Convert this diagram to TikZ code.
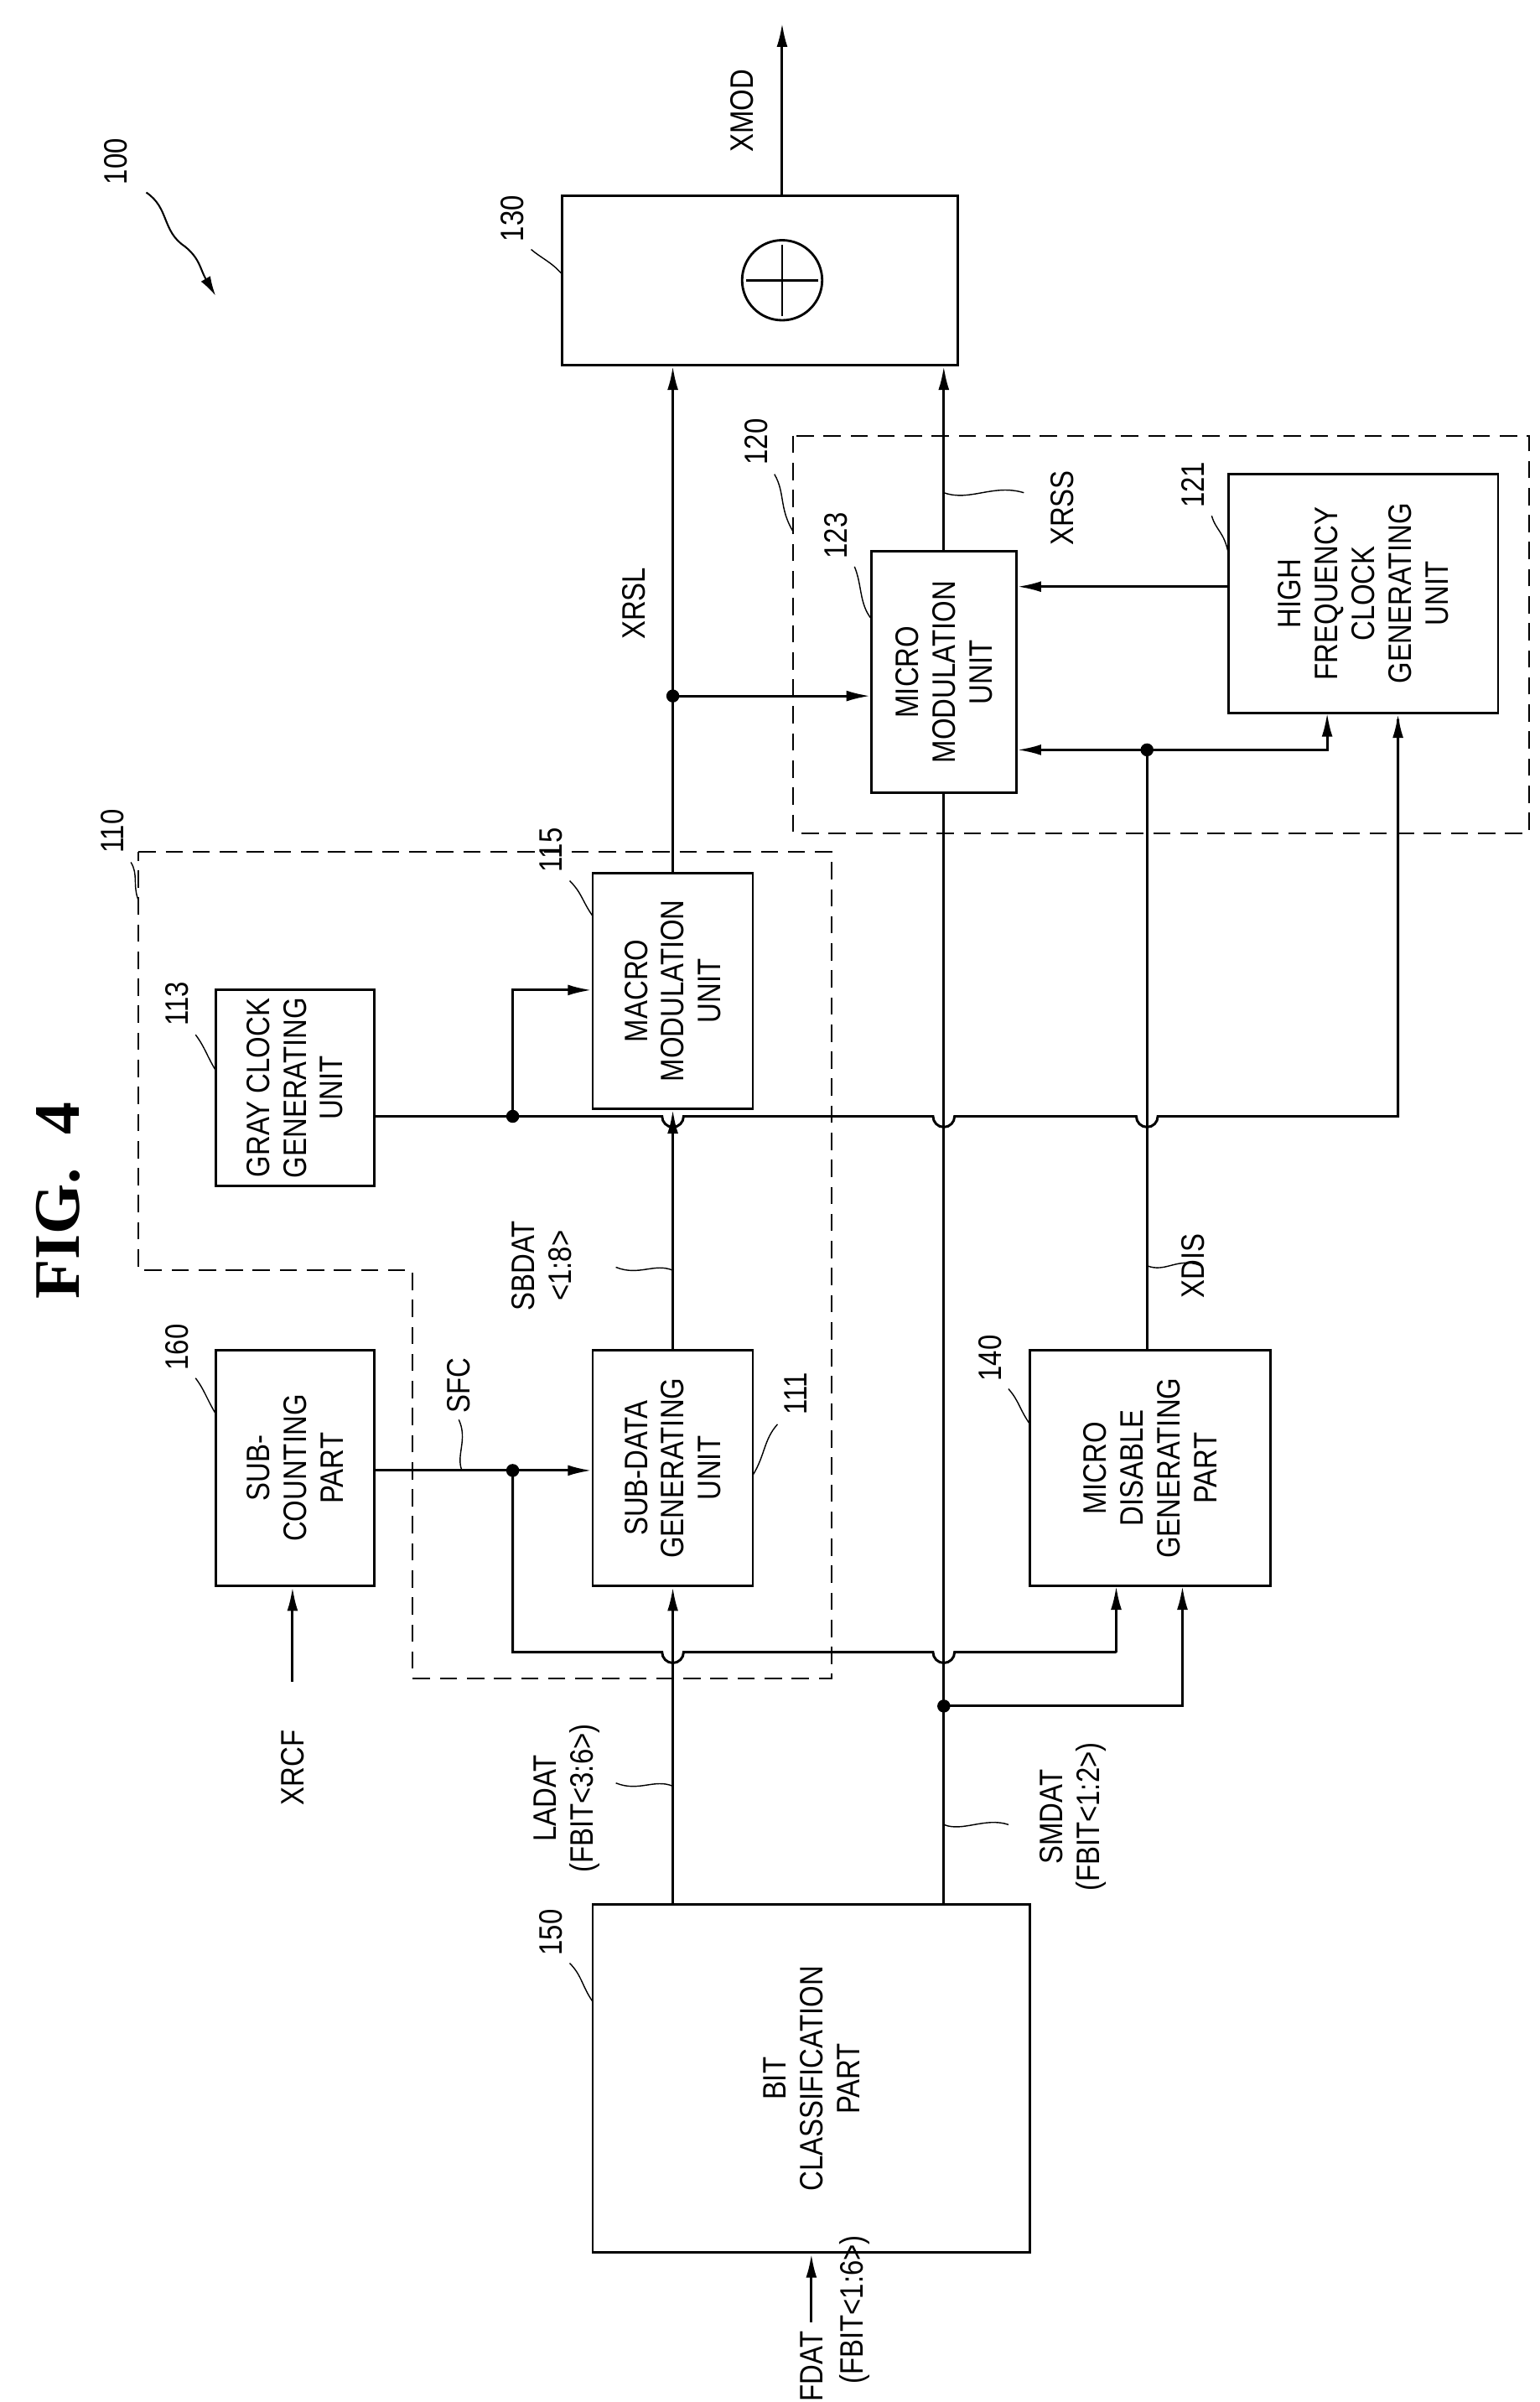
\documentclass[tikz,border=0pt]{standalone}
\usepackage{fontspec}
\setmainfont{Liberation Sans}
\newfontfamily\figfont{Liberation Serif}
\usetikzlibrary{arrows.meta,fit}
\begin{document}
\begin{tikzpicture}[x=0.05cm,y=-0.05cm,
  box/.style={draw,line width=2.2pt,inner sep=0pt},
  txt/.style={rotate=90,xscale=0.85,align=center,font=\fontsize{30}{34}\selectfont},
  lbl/.style={rotate=90,xscale=0.85,align=center,font=\fontsize{30}{34}\selectfont},
  wire/.style={line width=2.3pt},
  arr/.style={wire,-{Latex[length=22pt,width=10pt]}},
  lead/.style={line width=1.1pt},
  grp/.style={line width=1.6pt,dash pattern=on 16pt off 9pt},
  dot/.style={circle,fill,inner sep=0pt,minimum size=12pt}]
\useasboundingbox (0,0) rectangle (1000,1560);
% boxes
\node[box,fit={(365,127)(622,237)}] (b130) {};
\node[box,fit={(566,358)(660,515)}] (b123) {};
\node[box,fit={(798,308)(973,463)}] (b121) {};
\node[box,fit={(140,643)(243,770)}] (b113) {};
\node[box,fit={(385,567)(489,720)}] (b115) {};
\node[box,fit={(385,877)(489,1030)}] (b111) {};
\node[box,fit={(140,877)(243,1030)}] (b160) {};
\node[box,fit={(669,877)(825,1030)}] (b140) {};
\node[box,fit={(385,1237)(669,1463)}] (b150) {};
% box texts
\node[txt] (t123) at (b123.center) {MICRO\\MODULATION\\UNIT};
\node[txt] (t121) at (b121.center) {HIGH\\FREQUENCY\\CLOCK\\GENERATING\\UNIT};
\node[txt] (t113) at (b113.center) {GRAY CLOCK\\GENERATING\\UNIT};
\node[txt] (t115) at (b115.center) {MACRO\\MODULATION\\UNIT};
\node[txt] (t111) at (b111.center) {SUB-DATA\\GENERATING\\UNIT};
\node[txt] (t160) at (b160.center) {SUB-\\COUNTING\\PART};
\node[txt] (t140) at (b140.center) {MICRO\\DISABLE\\GENERATING\\PART};
\node[txt] (t150) at (b150.center) {BIT\\CLASSIFICATION\\PART};
% adder
\node[circle,draw,line width=2.2pt,minimum size=52*0.05cm,inner sep=0pt] (sum) at (508,182) {};
\draw[line width=2.2pt] ([yshift=-5pt]sum.north) -- ([yshift=5pt]sum.south) ([xshift=5pt]sum.west) -- ([xshift=-5pt]sum.east);
% dashed groups
\draw[grp] (90,553) -- (540,553) -- (540,1090) -- (268,1090) -- (268,825) -- (90,825) -- cycle;
\draw[grp] (515,283) rectangle (993,541);
% coordinates
\coordinate (xmod) at (508,15);
\coordinate (j1) at (437,452);
\coordinate (j2) at (745,487);
\coordinate (j3) at (333,725);
\coordinate (j4) at (333,955);
\coordinate (j5) at (613,1108);
\coordinate (xrcf) at (190,1092);
\coordinate (fdat) at (527,1508);
% connectors
\draw[arr] (sum.north |- b130.north) -- (xmod);
\draw[arr] (b115.north) -- (b115.north |- b130.south);
\draw[arr] (j1) -- (j1 -| b123.west);
\draw[arr] (b123.north) -- (b123.north |- b130.south);
\draw[arr] (b121.west |- 0,381) -- (b123.east |- 0,381);
\draw[wire] (b150.north -| b123.south) -- (b123.south);
\draw[arr] (j5) -- (768,1108) -- (768,1030);
\draw[wire] (b140.north -| j2) -- (j2);
\draw[arr] (j2) -- (j2 -| b123.east);
\draw[arr] (j2) -- (862,487) -- (862,463);
\draw[wire] (b113.east |- j3) -- (430,725) arc (180:0:7) -- (606,725) arc (180:0:7) -- (738,725) arc (180:0:7) -- (908,725) -- (908,467);
\draw[-{Latex[length=22pt,width=10pt]},line width=2.3pt] (908,480) -- (b121.south -| 908,0);
\draw[arr] (j3) -- (333,643) -- (b115.west |- 0,643);
\draw[arr] (b111.north) -- (b115.south);
\draw[arr] (b160.east |- j4) -- (b111.west |- j4);
\draw[wire] (j4) -- (333,1073) -- (430,1073) arc (180:0:7) -- (606,1073) arc (180:0:7) -- (725,1073);
\draw[arr] (725,1073) -- (725,1030);
\draw[arr] (b150.north -| b111.south) -- (b111.south);
\draw[arr] (xrcf) -- (b160.south -| xrcf);
\draw[arr] (fdat) -- (b150.south -| fdat);
\foreach \p in {j1,j2,j3,j4,j5} \node[dot] at (\p) {};
% signal labels
\node[lbl] (lxmod) at (482,72) {XMOD};
\node[lbl] (lxrsl) at (412,392) {XRSL};
\node[lbl] (lxrss) at (690,330) {XRSS};
\node[lbl] (lsbdat) at (352,822) {SBDAT\\<1:8>};
\node[lbl] (lsfc) at (298,900) {SFC};
\node[lbl] (lxdis) at (775,822) {XDIS};
\node[lbl] (lladat) at (368,1168) {LADAT\\(FBIT<3:6>)};
\node[lbl] (lsmdat) at (697,1180) {SMDAT\\(FBIT<1:2>)};
\node[lbl] (lxrcf) at (190,1148) {XRCF};
\node[lbl,anchor=east] (lfdat) at (527,1512) {FDAT};
\node[lbl] (lfbit) at (555,1500) {(FBIT<1:6>)};
% signal leaders
\draw[lead] (613,320) .. controls (630,326) and (645,314) .. (665,320);
\draw[lead] (437,825) .. controls (425,820) and (415,829) .. (400,823);
\draw[lead] (745,822) .. controls (757,827) and (765,816) .. (780,822);
\draw[lead] (437,1160) .. controls (425,1155) and (415,1164) .. (400,1158);
\draw[lead] (613,1185) .. controls (625,1190) and (640,1180) .. (655,1185);
\draw[lead] (300,955) .. controls (296,945) and (304,935) .. (298,922);
% reference numerals
\node[lbl] (n130) at (333,142) {130};
\draw[lead] (345,162) .. controls (352,168) and (358,170) .. (365,178);
\node[lbl] (n120) at (491,287) {120};
\draw[lead] (503,308) .. controls (510,320) and (506,330) .. (515,345);
\node[lbl] (n123) at (543,348) {123};
\draw[lead] (555,368) .. controls (560,380) and (558,392) .. (566,402);
\node[lbl] (n121) at (775,315) {121};
\draw[lead] (787,335) .. controls (790,345) and (795,345) .. (798,360);
\node[lbl] (n115) at (358,552) {115};
\draw[lead] (370,572) .. controls (378,580) and (378,585) .. (385,595);
\node[lbl] (n113) at (115,652) {113};
\draw[lead] (127,672) .. controls (133,680) and (134,685) .. (140,695);
\node[lbl] (n110) at (73,540) {110};
\draw[lead] (85,560) .. controls (90,568) and (86,575) .. (90,585);
\node[lbl] (n111) at (517,905) {111};
\draw[lead] (505,925) .. controls (496,935) and (497,945) .. (489,958);
\node[lbl] (n160) at (115,875) {160};
\draw[lead] (127,895) .. controls (133,903) and (134,908) .. (140,918);
\node[lbl] (n140) at (643,882) {140};
\draw[lead] (655,902) .. controls (662,910) and (662,915) .. (669,925);
\node[lbl] (n150) at (358,1255) {150};
\draw[lead] (370,1275) .. controls (378,1283) and (378,1290) .. (385,1300);
\node[lbl] (n100) at (75,105) {100};
\draw[line width=1.6pt,-{Latex[length=18pt,width=10pt]}] (95,125) .. controls (110,135) and (105,150) .. (120,160) .. controls (130,168) and (130,175) .. (140,192);
% title
\node[rotate=90,font=\figfont\bfseries\fontsize{60}{64}\selectfont] (fig) at (38,780) {FIG.~~4};
\end{tikzpicture}
\end{document}
